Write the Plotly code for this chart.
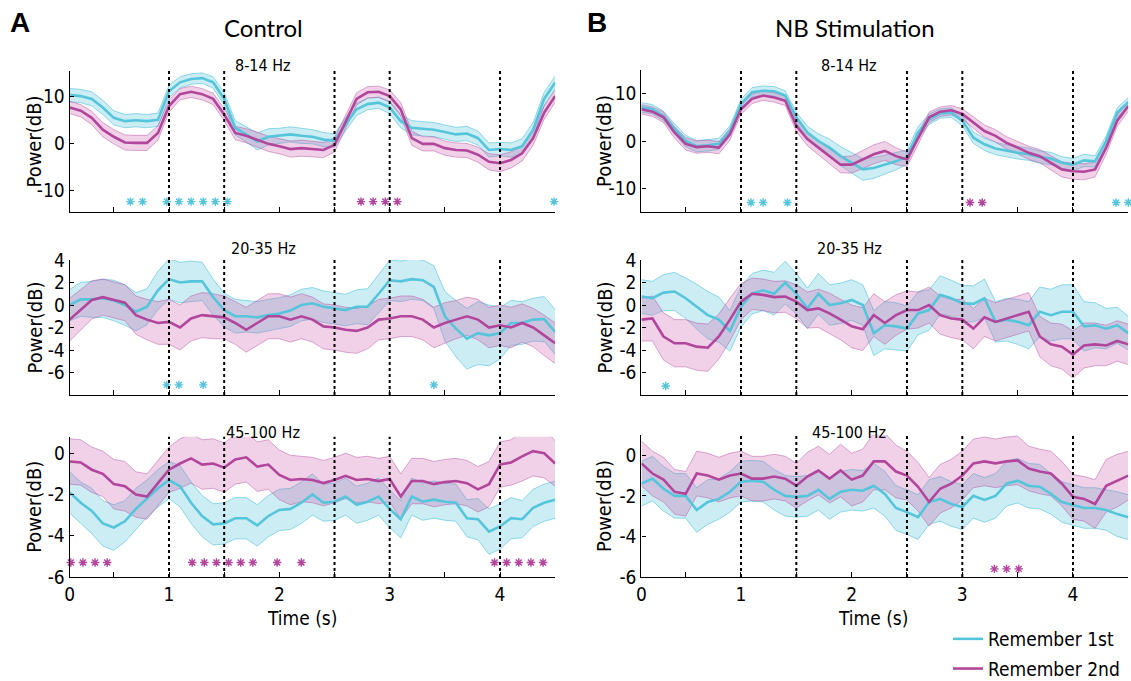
import plotly.graph_objects as go

# ---------------- data ----------------
time_s = [0.1, 0.2, 0.3, 0.4, 0.5, 0.6, 0.7, 0.8, 0.9, 1.0,
          1.1, 1.2, 1.3, 1.4, 1.5, 1.6, 1.7, 1.8, 1.9, 2.0,
          2.1, 2.2, 2.3, 2.4, 2.5, 2.6, 2.7, 2.8, 2.9, 3.0,
          3.1, 3.2, 3.3, 3.4, 3.5, 3.6, 3.7, 3.8, 3.9, 4.0,
          4.1, 4.2, 4.3, 4.4, 4.5]

# Control, 8-14 Hz
ctrl_alpha_first = [10.2, 10.0, 9.4, 7.6, 5.4, 4.7, 4.9, 4.7, 5.0, 11.0, 12.9, 13.6, 13.8, 12.9, 9.4,
                    3.3, 1.9, 0.4, 1.4, 1.6, 1.9, 1.6, 1.4, 0.8, 0.6, 4.0, 7.2, 8.3, 8.6, 7.6,
                    4.7, 3.3, 3.1, 2.9, 2.4, 1.9, 2.1, 1.1, -1.4, -1.2, -1.4, -0.6, 2.9, 9.4, 12.9]
ctrl_alpha_first_sem = [1.4, 1.4, 1.5, 1.5, 1.5, 1.4, 1.4, 1.4, 1.4, 1.3, 1.2, 1.1, 1.1, 1.2, 1.3,
                        1.5, 1.6, 1.8, 1.7, 1.6, 1.6, 1.6, 1.5, 1.5, 1.4, 1.4, 1.3, 1.2, 1.2, 1.3,
                        1.4, 1.5, 1.5, 1.5, 1.5, 1.5, 1.5, 1.5, 1.5, 1.4, 1.5, 1.6, 1.5, 1.4, 1.3]
ctrl_alpha_second = [7.6, 6.9, 5.4, 2.9, 1.4, 0.2, 0.1, 0.1, 2.2, 7.9, 10.4, 10.9, 10.4, 9.4, 6.1,
                     2.2, 1.6, 0.8, -0.1, -0.6, -1.2, -1.0, -1.2, -1.4, -0.3, 4.4, 9.4, 10.8, 10.9, 10.0,
                     7.2, 1.1, -0.1, -0.1, -1.0, -1.4, -1.5, -2.4, -3.9, -4.2, -3.5, -2.1, 1.1, 6.5, 10.0]
ctrl_alpha_second_sem = [1.3, 1.3, 1.4, 1.5, 1.5, 1.6, 1.6, 1.6, 1.5, 1.3, 1.2, 1.2, 1.2, 1.2, 1.3,
                         1.4, 1.5, 1.6, 1.6, 1.6, 1.7, 1.7, 1.7, 1.6, 1.5, 1.4, 1.3, 1.2, 1.2, 1.3,
                         1.4, 1.5, 1.5, 1.5, 1.5, 1.5, 1.5, 1.6, 1.7, 1.8, 1.7, 1.6, 1.5, 1.4, 1.3]

# Control, 20-35 Hz
ctrl_beta_first = [0.0, 0.5, 0.5, 0.6, 0.4, 0.0, -0.6, -0.15, 1.3, 2.3, 2.0, 2.1, 2.1, 0.7, -0.45,
                   -1.0, -1.0, -1.1, -0.9, -0.75, -0.5, 0.0, 0.15, -0.15, -0.3, -0.45, -0.15, -0.15, 1.0, 2.2,
                   2.1, 2.3, 2.2, 1.6, -1.0, -2.1, -3.0, -2.5, -2.7, -2.5, -1.6, -1.6, -1.3, -1.25, -2.4]
ctrl_beta_first_sem = [1.4, 1.5, 1.6, 1.7, 1.8, 1.8, 1.7, 1.6, 1.7, 1.8, 1.8, 1.8, 1.7, 1.6, 1.5,
                       1.5, 1.4, 1.4, 1.4, 1.4, 1.4, 1.4, 1.4, 1.4, 1.4, 1.4, 1.5, 1.6, 1.7, 1.8,
                       1.8, 1.8, 1.8, 1.9, 2.2, 2.5, 2.7, 2.8, 2.7, 2.3, 2.0, 1.9, 1.9, 2.0, 2.0]
ctrl_beta_second = [-1.3, -0.45, 0.45, 0.7, 0.45, 0.2, -0.9, -1.3, -1.6, -1.5, -2.0, -1.2, -0.9, -1.0, -1.1,
                    -1.6, -2.2, -1.6, -1.0, -1.0, -1.3, -1.0, -1.3, -1.9, -2.0, -2.2, -2.3, -2.0, -1.3, -1.2,
                    -1.0, -1.0, -1.3, -2.0, -1.6, -1.3, -1.0, -1.3, -2.0, -1.8, -2.0, -1.6, -2.0, -2.7, -3.4]
ctrl_beta_second_sem = [1.9, 1.8, 1.7, 1.6, 1.6, 1.6, 1.7, 1.8, 1.9, 2.0, 2.0, 2.0, 2.0, 2.0, 1.9,
                        1.9, 2.0, 2.0, 2.0, 2.0, 2.0, 2.0, 2.0, 2.0, 2.0, 2.0, 2.0, 1.9, 1.8, 1.8,
                        1.8, 1.8, 1.8, 1.8, 1.8, 1.7, 1.7, 1.8, 1.8, 1.8, 1.8, 1.7, 1.7, 1.8, 1.8]

# Control, 45-100 Hz
ctrl_gamma_first = [-1.9, -2.4, -2.8, -3.4, -3.6, -3.3, -2.7, -2.2, -1.7, -1.3, -1.6, -2.4, -3.05, -3.45, -3.4,
                    -3.15, -3.15, -3.5, -3.05, -2.75, -2.7, -2.4, -2.0, -2.4, -2.35, -2.1, -2.5, -2.35, -2.1, -2.7,
                    -3.2, -2.1, -2.35, -2.25, -2.35, -2.4, -3.15, -3.2, -3.8, -3.55, -3.15, -3.2, -2.65, -2.4, -2.25]
ctrl_gamma_first_sem = [1.0, 1.0, 1.1, 1.1, 1.1, 1.0, 1.0, 0.9, 0.9, 0.9, 1.0, 1.0, 1.0, 1.0, 1.0,
                        1.0, 1.0, 1.0, 1.0, 1.0, 1.0, 1.0, 1.0, 0.9, 0.9, 0.9, 0.9, 0.9, 0.9, 0.9,
                        0.9, 0.9, 0.9, 0.9, 0.9, 0.9, 0.9, 1.0, 1.1, 1.1, 1.0, 0.9, 0.9, 0.9, 0.9]
ctrl_gamma_second = [-0.4, -0.45, -0.8, -1.0, -1.5, -1.6, -2.0, -2.1, -1.45, -0.8, -0.5, -0.25, -0.55, -0.5, -0.7,
                     -0.3, -0.2, -0.65, -0.55, -1.05, -1.3, -1.25, -1.3, -1.45, -1.3, -1.1, -1.3, -1.25, -1.35, -1.25,
                     -2.1, -1.35, -1.35, -1.5, -1.4, -1.35, -1.45, -1.75, -1.5, -0.55, -0.45, -0.15, 0.1, 0.0, -0.5]
ctrl_gamma_second_sem = [1.1, 1.1, 1.1, 1.1, 1.2, 1.2, 1.1, 1.1, 1.1, 1.1, 1.2, 1.2, 1.2, 1.2, 1.2,
                         1.2, 1.2, 1.2, 1.2, 1.2, 1.2, 1.1, 1.1, 1.1, 1.1, 1.1, 1.1, 1.1, 1.1, 1.1,
                         1.1, 1.1, 1.1, 1.1, 1.1, 1.1, 1.1, 1.1, 1.1, 1.1, 1.1, 1.2, 1.2, 1.2, 1.1]

# NB stimulation, 8-14 Hz
nb_alpha_first = [7.1, 6.7, 5.3, 2.5, 0.0, -1.1, -0.9, -0.6, 2.1, 7.8, 10.3, 10.6, 10.5, 9.6, 5.0,
                  1.8, 0.0, -1.4, -3.2, -4.6, -6.0, -5.7, -5.0, -4.3, -3.4, 1.8, 4.6, 5.8, 6.0, 4.3,
                  0.7, -0.7, -1.6, -2.1, -2.5, -2.8, -3.4, -3.7, -4.6, -5.0, -4.1, -4.3, 0.0, 6.0, 8.2]
nb_alpha_first_sem = [1.0, 1.0, 1.0, 1.1, 1.2, 1.2, 1.2, 1.2, 1.1, 1.0, 1.0, 1.0, 1.0, 1.0, 1.1,
                      1.3, 1.5, 1.8, 2.0, 2.2, 2.3, 2.2, 2.0, 1.8, 1.5, 1.2, 1.1, 1.0, 1.0, 1.1,
                      1.2, 1.3, 1.3, 1.3, 1.3, 1.3, 1.3, 1.3, 1.3, 1.3, 1.3, 1.2, 1.1, 1.0, 1.0]
nb_alpha_second = [6.7, 6.2, 5.0, 1.8, -0.6, -1.3, -1.1, -1.4, 1.4, 6.7, 8.9, 9.6, 9.2, 8.5, 3.2,
                   0.4, -1.4, -3.2, -5.0, -5.0, -3.9, -2.8, -2.1, -3.2, -3.9, 0.4, 5.0, 6.2, 6.5, 5.7,
                   3.9, 2.1, 1.1, -0.4, -1.4, -2.5, -3.2, -4.6, -6.0, -6.4, -6.5, -6.0, -1.4, 4.3, 7.4]
nb_alpha_second_sem = [1.0, 1.0, 1.1, 1.2, 1.3, 1.3, 1.3, 1.3, 1.2, 1.1, 1.0, 1.0, 1.0, 1.0, 1.2,
                       1.4, 1.5, 1.6, 1.7, 1.8, 1.9, 2.0, 2.0, 1.8, 1.5, 1.2, 1.1, 1.0, 1.0, 1.1,
                       1.2, 1.3, 1.3, 1.3, 1.3, 1.4, 1.4, 1.5, 1.6, 1.7, 1.7, 1.6, 1.4, 1.2, 1.1]

# NB stimulation, 20-35 Hz
nb_beta_first = [0.75, 0.6, 1.1, 1.2, 0.6, -0.15, -0.9, -1.3, -2.3, -0.15, 1.0, 1.3, 1.0, 2.0, 1.0,
                 -0.3, 1.0, 0.0, 0.15, 0.45, 0.0, -2.5, -1.8, -1.9, -2.1, -0.75, -0.45, 0.9, 0.6, 0.15,
                 0.1, 0.6, -1.5, -1.3, -1.5, -1.8, -0.6, -0.9, -0.6, -0.6, -1.9, -1.8, -2.1, -1.8, -2.5]
nb_beta_first_sem = [1.5, 1.5, 1.6, 1.7, 1.8, 2.0, 2.1, 2.0, 1.8, 1.8, 1.8, 1.8, 1.9, 1.9, 1.8,
                     1.8, 1.8, 1.8, 1.8, 1.8, 1.8, 2.0, 2.1, 2.1, 2.0, 1.9, 1.8, 1.7, 1.6, 1.6,
                     1.6, 1.7, 1.8, 1.9, 2.0, 2.1, 2.2, 2.3, 2.4, 2.4, 2.2, 2.0, 1.8, 1.6, 1.5]
nb_beta_second = [-1.3, -1.2, -2.8, -3.4, -3.4, -3.7, -3.8, -2.8, -1.3, 0.3, 1.0, 0.9, 0.7, 0.75, 0.3,
                  -0.45, -0.3, -0.75, -1.3, -1.9, -2.15, -0.9, -1.6, -0.9, -0.45, -0.45, 0.0, -0.9, -1.2, -1.3,
                  -2.1, -1.1, -1.5, -1.2, -0.9, -0.6, -2.8, -3.5, -3.7, -4.4, -3.6, -3.5, -3.6, -3.2, -3.5]
nb_beta_second_sem = [1.9, 2.0, 2.1, 2.1, 2.1, 2.1, 2.1, 2.0, 1.9, 1.6, 1.4, 1.4, 1.4, 1.4, 1.5,
                      1.6, 1.7, 1.8, 1.8, 1.9, 1.9, 1.9, 1.9, 1.8, 1.7, 1.6, 1.6, 1.7, 1.7, 1.8,
                      1.8, 1.7, 1.7, 1.7, 1.7, 1.7, 1.8, 1.9, 2.0, 2.1, 2.0, 1.9, 1.8, 1.8, 1.8]

# NB stimulation, 45-100 Hz
nb_gamma_first = [-1.4, -1.15, -1.65, -2.0, -2.0, -2.7, -2.3, -2.15, -1.8, -1.3, -1.25, -1.3, -1.7, -2.0, -2.05,
                  -2.0, -1.7, -2.15, -1.8, -1.7, -1.75, -1.5, -1.9, -2.6, -2.8, -3.05, -2.3, -2.15, -2.4, -2.55,
                  -2.0, -2.2, -2.0, -1.4, -1.25, -1.5, -1.55, -1.9, -2.3, -2.45, -2.6, -2.6, -2.7, -2.9, -3.05]
nb_gamma_first_sem = [1.1, 1.1, 1.1, 1.1, 1.1, 1.1, 1.1, 1.0, 1.0, 1.0, 1.0, 1.0, 1.0, 1.0, 1.0,
                      1.0, 1.0, 1.0, 1.0, 1.0, 1.0, 1.1, 1.1, 1.1, 1.1, 1.1, 1.1, 1.1, 1.1, 1.1,
                      1.1, 1.1, 1.1, 1.1, 1.1, 1.1, 1.1, 1.0, 1.0, 1.0, 1.0, 1.0, 1.0, 1.1, 1.1]
nb_gamma_second = [-0.4, -0.9, -1.2, -1.8, -1.9, -0.9, -1.0, -1.2, -1.0, -0.9, -1.15, -1.15, -1.05, -1.15, -1.5,
                   -1.05, -0.75, -1.15, -0.75, -1.2, -1.0, -0.3, -0.3, -0.8, -1.0, -1.55, -2.3, -1.65, -1.4, -1.0,
                   -0.4, -0.3, -0.4, -0.3, -0.25, -0.65, -0.8, -0.9, -1.4, -2.05, -2.15, -2.4, -1.5, -1.25, -1.0]
nb_gamma_second_sem = [1.1, 1.1, 1.1, 1.1, 1.1, 1.1, 1.1, 1.1, 1.1, 1.1, 1.1, 1.1, 1.1, 1.1, 1.1,
                       1.2, 1.2, 1.2, 1.3, 1.3, 1.3, 1.4, 1.4, 1.3, 1.2, 1.2, 1.2, 1.2, 1.2, 1.2,
                       1.2, 1.2, 1.2, 1.2, 1.2, 1.1, 1.1, 1.1, 1.1, 1.1, 1.1, 1.2, 1.3, 1.3, 1.2]

# significance markers (time of each asterisk)
ctrl_alpha_sig_first = [0.65, 0.76, 0.98, 1.09, 1.2, 1.31, 1.42, 1.53, 4.49]
ctrl_alpha_sig_second = [2.74, 2.85, 2.96, 3.07]
ctrl_beta_sig_first = [0.98, 1.09, 1.31, 3.4]
ctrl_beta_sig_second = []
ctrl_gamma_sig_first = []
ctrl_gamma_sig_second = [0.11, 0.22, 0.33, 0.44, 1.21, 1.32, 1.43, 1.54, 1.65, 1.76, 1.98, 2.2,
                         3.95, 4.06, 4.17, 4.28, 4.39]
nb_alpha_sig_first = [1.09, 1.2, 1.42, 4.39, 4.5]
nb_alpha_sig_second = [3.07, 3.18]
nb_beta_sig_first = [0.32]
nb_beta_sig_second = []
nb_gamma_sig_first = []
nb_gamma_sig_second = [3.29, 3.4, 3.51]

event_times = [1.0, 1.5, 2.5, 3.0, 4.0]
band_titles = ["8-14 Hz", "20-35 Hz", "45-100 Hz"]
series_names = ["Remember 1st", "Remember 2nd"]

# ---------------- style ----------------
W, H = 1131, 681
NARROW = "Liberation Sans Narrow, DejaVu Sans Condensed, Arial Narrow, sans-serif"
REG = "Lato, Open Sans, Liberation Sans, sans-serif"
CYAN = "#55c5dc"
MAG = "#b2459c"
CYAN_FILL = "rgba(100,198,222,0.32)"
MAG_FILL = "rgba(200,88,168,0.28)"
CYAN_EDGE = "rgba(85,197,220,0.8)"
MAG_EDGE = "rgba(178,69,156,0.55)"


def fx(p):
    return p / W


def fy(p):
    return 1 - p / H


col_dom = [[fx(69.7), fx(555.2)], [fx(641.4), fx(1128.3)]]
row_px = [
    [(71, 212), (70, 212)],
    [(260, 395), (260, 395)],
    [(436.7, 577), (435, 577)],
]
yranges = [
    [[-14.5, 15.3], [-15, 15]],
    [[-8, 4], [-8, 4]],
    [[-6, 0.8], [-6, 1]],
]
ytickvals = [[-10, 0, 10], [-6, -4, -2, 0, 2, 4], [-6, -4, -2, 0]]
star_y = [[-12.3, -13.0], [-7.1, -7.2], [-5.3, -5.6]]

panels = [
    [  # control column
        (ctrl_alpha_first, ctrl_alpha_first_sem, ctrl_alpha_second, ctrl_alpha_second_sem,
         ctrl_alpha_sig_first, ctrl_alpha_sig_second),
        (ctrl_beta_first, ctrl_beta_first_sem, ctrl_beta_second, ctrl_beta_second_sem,
         ctrl_beta_sig_first, ctrl_beta_sig_second),
        (ctrl_gamma_first, ctrl_gamma_first_sem, ctrl_gamma_second, ctrl_gamma_second_sem,
         ctrl_gamma_sig_first, ctrl_gamma_sig_second),
    ],
    [  # NB stimulation column
        (nb_alpha_first, nb_alpha_first_sem, nb_alpha_second, nb_alpha_second_sem,
         nb_alpha_sig_first, nb_alpha_sig_second),
        (nb_beta_first, nb_beta_first_sem, nb_beta_second, nb_beta_second_sem,
         nb_beta_sig_first, nb_beta_sig_second),
        (nb_gamma_first, nb_gamma_first_sem, nb_gamma_second, nb_gamma_second_sem,
         nb_gamma_sig_first, nb_gamma_sig_second),
    ],
]

fig = go.Figure()
layout_axes = {}
shapes = []
annotations = []

idx = 0
for c in range(2):
    for r in range(3):
        idx += 1
        xa = "x" if idx == 1 else f"x{idx}"
        ya = "y" if idx == 1 else f"y{idx}"
        m1, s1, m2, s2, sig1, sig2 = panels[c][r]

        for mean, sem, fill, edge in ((m1, s1, CYAN_FILL, CYAN_EDGE), (m2, s2, MAG_FILL, MAG_EDGE)):
            upper = [m + s for m, s in zip(mean, sem)]
            lower = [m - s for m, s in zip(mean, sem)]
            fig.add_trace(go.Scatter(x=time_s, y=upper, mode="lines", xaxis=xa, yaxis=ya,
                                     line=dict(color=edge, width=0.8), showlegend=False,
                                     hoverinfo="skip"))
            fig.add_trace(go.Scatter(x=time_s, y=lower, mode="lines", xaxis=xa, yaxis=ya,
                                     line=dict(color=edge, width=0.8), fill="tonexty",
                                     fillcolor=fill, showlegend=False, hoverinfo="skip"))

        for k, (mean, col) in enumerate(((m1, CYAN), (m2, MAG))):
            fig.add_trace(go.Scatter(x=time_s, y=mean, mode="lines", xaxis=xa, yaxis=ya,
                                     line=dict(color=col, width=2.6),
                                     name=series_names[k], legendgroup=series_names[k],
                                     showlegend=(idx == 1)))

        for sig, col in ((sig1, CYAN), (sig2, MAG)):
            if sig:
                fig.add_trace(go.Scatter(x=sig, y=[star_y[r][c]] * len(sig), mode="markers",
                                         xaxis=xa, yaxis=ya, cliponaxis=False,
                                         marker=dict(symbol="asterisk-open", size=7, color=col,
                                                     line=dict(color=col, width=1.4)),
                                         showlegend=False, hoverinfo="skip"))

        top, bot = row_px[r][c]
        bottom_row = (r == 2)
        layout_axes["xaxis" if idx == 1 else f"xaxis{idx}"] = dict(
            domain=col_dom[c], anchor=ya, range=[0.1, 4.5],
            showline=True, linecolor="black", linewidth=1.3, mirror=False,
            showgrid=False, zeroline=False,
            ticks="inside", ticklen=5, tickwidth=1.2, tickcolor="black",
            tickmode="array",
            tickvals=[0.1, 0.5, 1, 1.5, 2, 2.5, 3, 3.5, 4, 4.5],
            ticktext=["0", "", "1", "", "2", "", "3", "", "4", ""],
            showticklabels=bottom_row,
            tickfont=dict(family=NARROW, size=19, color="black"),
        )
        layout_axes["yaxis" if idx == 1 else f"yaxis{idx}"] = dict(
            domain=[fy(bot), fy(top)], anchor=xa, range=yranges[r][c],
            showline=True, linecolor="black", linewidth=1.3,
            showgrid=False, zeroline=False,
            ticks="inside", ticklen=4, tickwidth=1.2, tickcolor="black",
            tickmode="array", tickvals=ytickvals[r],
            ticktext=[str(v) for v in ytickvals[r]],
            tickfont=dict(family=NARROW, size=19, color="black"),
        )

        for t in event_times:
            shapes.append(dict(type="line", xref=xa, yref=f"{ya} domain",
                               x0=t, x1=t, y0=0, y1=1, layer="above",
                               line=dict(color="black", width=2, dash="dot")))

        # panel title
        tx = [263, 849][c]
        tyy = [66, 249, 432][r]
        annotations.append(dict(text=band_titles[r], x=fx(tx), y=fy(tyy), xref="paper", yref="paper",
                                showarrow=False, xanchor="center", yanchor="middle",
                                font=dict(family=NARROW, size=16, color="black")))
        # y title
        annotations.append(dict(text="Power(dB)", x=fx([34, 604][c]), y=fy((top + bot) / 2),
                                xref="paper", yref="paper", showarrow=False, textangle=-90,
                                xanchor="center", yanchor="middle",
                                font=dict(family=NARROW, size=20, color="black")))
        if bottom_row:
            annotations.append(dict(text="Time (s)", x=fx([302, 873][c]), y=fy(618),
                                    xref="paper", yref="paper", showarrow=False,
                                    xanchor="center", yanchor="middle",
                                    font=dict(family=NARROW, size=19, color="black")))

annotations += [
    dict(text="<b>A</b>", x=fx(20), y=fy(22), xref="paper", yref="paper", showarrow=False,
         xanchor="center", yanchor="middle", font=dict(family="Liberation Sans, Arial, sans-serif", size=28, color="black")),
    dict(text="<b>B</b>", x=fx(597), y=fy(22), xref="paper", yref="paper", showarrow=False,
         xanchor="center", yanchor="middle", font=dict(family="Liberation Sans, Arial, sans-serif", size=28, color="black")),
    dict(text="Control", x=fx(263), y=fy(28), xref="paper", yref="paper", showarrow=False,
         xanchor="center", yanchor="middle", font=dict(family=REG, size=24, color="black")),
    dict(text="NB Stimulation", x=fx(855), y=fy(28), xref="paper", yref="paper", showarrow=False,
         xanchor="center", yanchor="middle", font=dict(family=REG, size=24, color="black")),
]

fig.update_layout(
    width=W, height=H, autosize=False,
    margin=dict(l=0, r=0, t=0, b=0, autoexpand=False),
    paper_bgcolor="white", plot_bgcolor="white",
    shapes=shapes, annotations=annotations,
    showlegend=True,
    legend=dict(x=fx(948), y=fy(620), xanchor="left", yanchor="top",
                font=dict(family=NARROW, size=19, color="black"),
                bgcolor="rgba(0,0,0,0)", borderwidth=0, itemwidth=30,
                tracegroupgap=2),
    **layout_axes,
)

fig.write_html("out.html",
               config={"displayModeBar": False},
               post_script="document.body.style.margin='0';document.body.style.padding='0';"
                           "document.body.style.overflow='hidden';")
